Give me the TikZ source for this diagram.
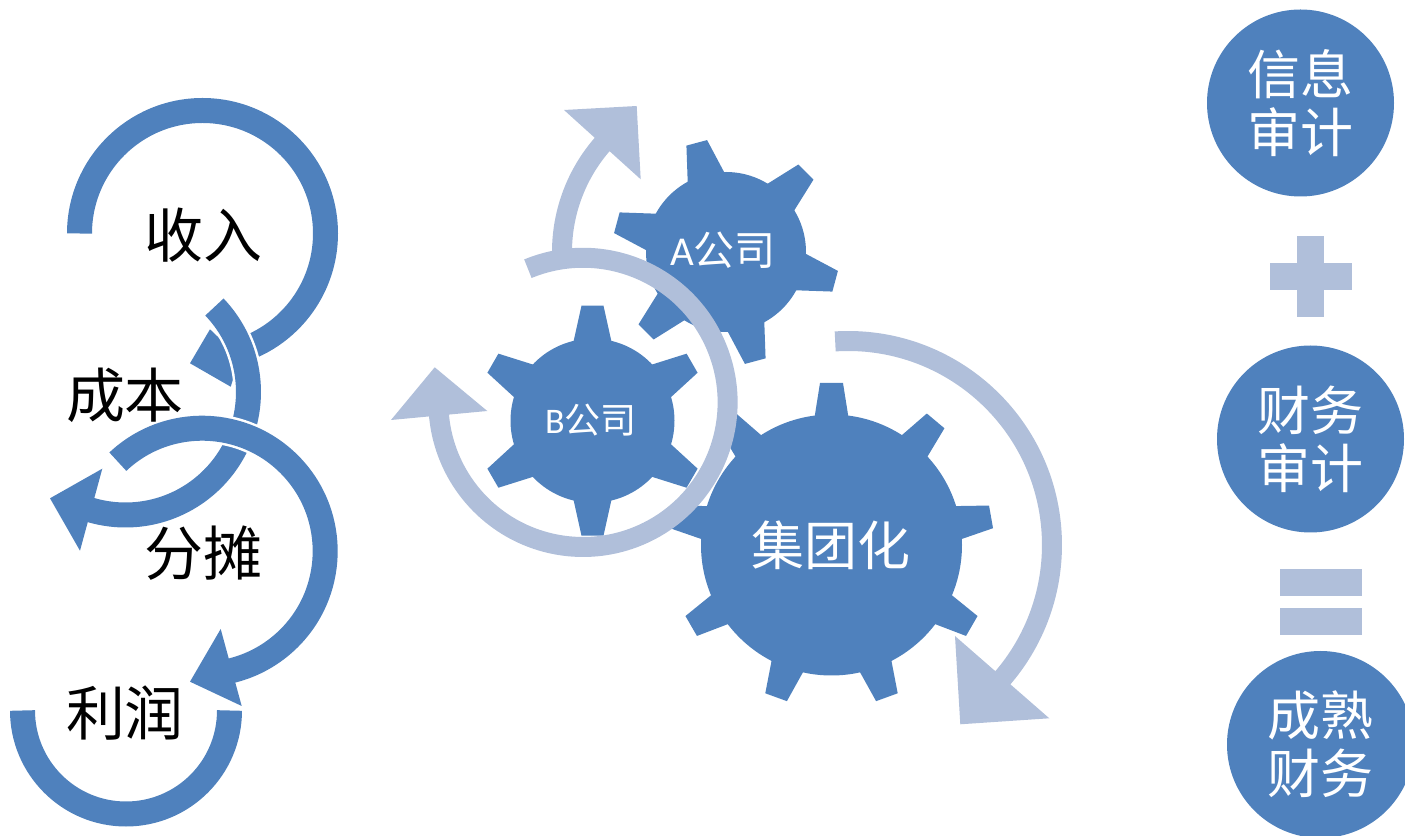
\documentclass[tikz,border=0pt]{standalone}
\usepackage{fontspec}
\setmainfont{Carlito}
\newfontfamily\cjk{Noto Sans CJK SC}
\definecolor{gearblue}{HTML}{4F81BD}
\definecolor{ringblue}{HTML}{B0BFDA}
\tikzset{
	darkarc/.style={draw=gearblue, line width=12.5pt},
	edgearc/.style={draw=white, line width=15pt},
	lightarc/.style={draw=ringblue, line width=10pt},
	blacktext/.style={text=black, font=\cjk\fontsize{29.5}{29.5}\selectfont, inner sep=0pt},
	whitetext/.style={text=white, font=\cjk\fontsize{26.5}{29}\selectfont, inner sep=0pt, align=center},
	roundbox/.style={circle, fill=gearblue, minimum size=93.5pt, inner sep=0pt}
}
% center x, center y, body radius, tip radius, tip half width, base half width, tooth angles
\newcommand{\gearat}[7]{
	\fill[gearblue] (#1,#2) circle[radius=#3];
	\foreach \a in {#7} {
		\fill[gearblue, shift={(#1,#2)}, rotate=\a] (#3-3,-#6) -- (#4,-#5) -- (#4,#5) -- (#3-3,#6) -- cycle;
	}
}
\begin{document}
\begin{tikzpicture}[x=0.5pt, y=0.5pt]
	\useasboundingbox (0,0) rectangle (1405,836);

	% Left column of arrows
	\draw[darkarc] ([shift={(202.5,602.5)}]180:123) arc[start angle=180, end angle=-82, radius=123];
	\fill[gearblue] (210,506.7) -- (190,472.7) -- (230.7,449.3) -- (240,478) -- cycle;

	\draw[edgearc] ([shift={(125.5,444)}]46:123) arc[start angle=46, end angle=-25, radius=123];
	\draw[darkarc] ([shift={(125.5,444)}]43.7:123) arc[start angle=43.7, end angle=-109, radius=123];
	\fill[gearblue] (102.3,367.3) -- (50,337.7) -- (80,285.3) -- cycle;

	\draw[edgearc] ([shift={(202.2,284.8)}]133.3:123) arc[start angle=133.3, end angle=60, radius=123];
	\draw[darkarc] ([shift={(202.2,284.8)}]133.3:123) arc[start angle=133.3, end angle=-78, radius=123];
	\fill[gearblue] (220.7,207) -- (190,154.3) -- (241.7,130) -- cycle;

	\draw[darkarc] ([shift={(126,125.5)}]0:103.5) arc[start angle=0, end angle=-180, radius=103.5];

	\node[blacktext] (income) at (203,601) {收入};
	\node[blacktext] (cost) at (125,441) {成本};
	\node[blacktext] (share) at (203,283) {分摊};
	\node[blacktext] (profit) at (125,123) {利润};

	% Gears
	\gearat{831.5}{291}{130.5}{162}{11.5}{17}{90,130,...,410}
	\gearat{726}{584}{80}{113}{10.7}{19}{45,105,...,345}
	\gearat{592.5}{415.3}{82}{115}{11}{19}{30,90,...,330}

	\node[whitetext] (group) at (831,291) {集团化};
	\node[whitetext, font=\fontsize{20.5}{20.5}\selectfont] (compa) at (723,586) {A{\cjk 公司}};
	\node[whitetext, font=\fontsize{18}{18}\selectfont] (compb) at (591,416) {B{\cjk 公司}};

	% Light arrows round the gears
	\draw[lightarc] ([shift={(726,584)}]181:164) arc[start angle=181, end angle=137, radius=164];
	\fill[ringblue] (564,726) -- (636.7,730) -- (640.7,656.7) -- cycle;

	\draw[lightarc] ([shift={(583,433.6)}]112.4:144.6) arc[start angle=112.4, end angle=-177, radius=144.6];
	\fill[ringblue] (391,416) -- (487.3,425) -- (434.7,468.7) -- cycle;

	\draw[lightarc] ([shift={(848,291)}]93.6:204) arc[start angle=93.6, end angle=-43, radius=204];
	\fill[ringblue] (955,200) -- (1049.3,117.7) -- (960.3,111.7) -- cycle;

	% Right column
	\node[roundbox] (audit) at (1300.5,733) {};
	\node[roundbox] (finance) at (1310.5,397) {};
	\node[roundbox] (mature) at (1320.5,91.5) {};
	\node[whitetext] at (audit) {信息\\审计};
	\node[whitetext] at (finance) {财务\\审计};
	\node[whitetext] at (mature) {成熟\\财务};

	\fill[ringblue] (1270,546) rectangle (1352,573);
	\fill[ringblue] (1297,519) rectangle (1324,600);
	\fill[ringblue] (1280,240) rectangle (1362,267);
	\fill[ringblue] (1280,201) rectangle (1362,228);
\end{tikzpicture}
\end{document}
